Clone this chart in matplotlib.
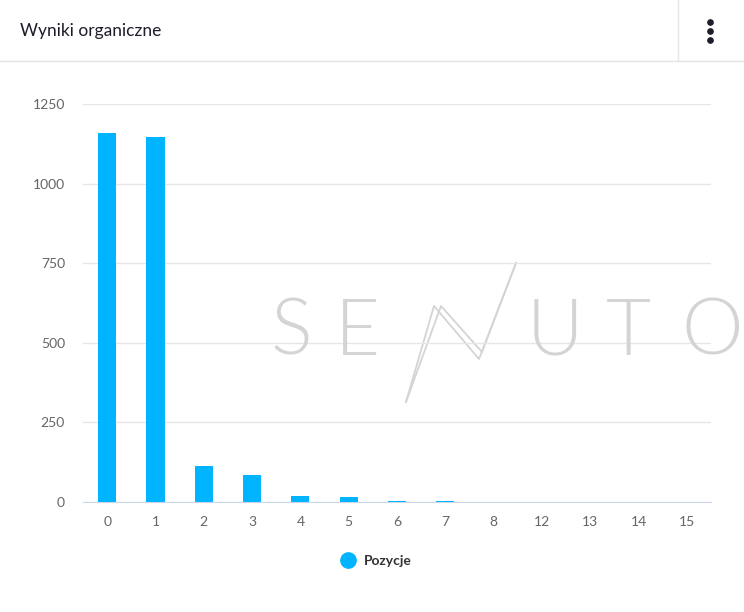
import matplotlib.pyplot as plt
from matplotlib.lines import Line2D

# data
categories = ['0', '1', '2', '3', '4', '5', '6', '7', '8', '12', '13', '14', '15']
values = [1160, 1147, 112, 85, 18, 17, 2, 2, 1, 1, 1, 1, 1]
y_ticks = [0, 250, 500, 750, 1000, 1250]
series_name = 'Pozycje'
title = 'Wyniki organiczne'

W, H = 744, 612
fig = plt.figure(figsize=(W / 100, H / 100), dpi=100)
fig.patch.set_facecolor('white')


def fx(px):
    return px / W


def fy(py):
    return 1 - py / H


# card header
fig.text(fx(20), fy(31), title, fontsize=12.5, family='Lato', color='#1c1c2b',
         va='center', ha='left')
fig.add_artist(Line2D([0, 1], [fy(61), fy(61)], color='#e3e3e3', lw=1))
fig.add_artist(Line2D([fx(678), fx(678)], [fy(0), fy(60)], color='#e6e6e6', lw=1))
for py in (22, 31, 40):
    fig.add_artist(Line2D([fx(710)], [fy(py)], marker='o', markersize=3.8,
                          color='#1c1c2b', lw=0))

# watermark
wm = [('S', 291), ('E', 357), ('U', 555), ('T', 628), ('O', 712)]
for ch, px in wm:
    fig.text(fx(px), fy(333), ch, fontsize=56, family='Lato', fontweight=300,
             color='#d4d4d4', ha='center', va='center', zorder=0)
# stylised N of the logo
bolt1 = [(406, 402), (434, 306), (479, 359), (516, 263)]
bolt2 = [(406, 402), (441, 306), (482, 352), (516, 263)]
for pts in (bolt1, bolt2):
    fig.add_artist(Line2D([fx(p[0]) for p in pts], [fy(p[1]) for p in pts],
                          color='#d4d4d4', lw=1.3, zorder=0))

ax = fig.add_axes([fx(83), fy(502), fx(711) - fx(83), fy(104) - fy(502)])
ax.set_facecolor('none')
x = range(len(categories))
ax.bar(x, values, width=0.375, color='#00b4ff', label=series_name, zorder=3)
ax.set_xlim(-0.5, len(categories) - 0.5)
ax.set_ylim(0, 1250)
ax.set_yticks(y_ticks)
ax.set_xticks(list(x))
ax.set_xticklabels(categories)
ax.grid(axis='y', color='#e6e6e6', lw=1)
ax.set_axisbelow(True)
for s in ['top', 'right', 'left']:
    ax.spines[s].set_visible(False)
ax.spines['bottom'].set_color('#ccd6eb')
ax.tick_params(axis='both', length=0, labelsize=10, labelcolor='#666666')
ax.tick_params(axis='y', pad=13)
ax.tick_params(axis='x', pad=10)
for lbl in ax.get_xticklabels() + ax.get_yticklabels():
    lbl.set_family('Lato')

leg = fig.legend(handles=[Line2D([], [], marker='o', color='#00b4ff', lw=0,
                                 markersize=11)],
                 labels=[series_name], loc='center', bbox_to_anchor=(fx(373), fy(561)),
                 frameon=False, handletextpad=0.1,
                 prop={'family': 'Lato', 'weight': 'bold', 'size': 10})
for t in leg.get_texts():
    t.set_color('#333333')

fig.savefig('out.png', dpi=100)
